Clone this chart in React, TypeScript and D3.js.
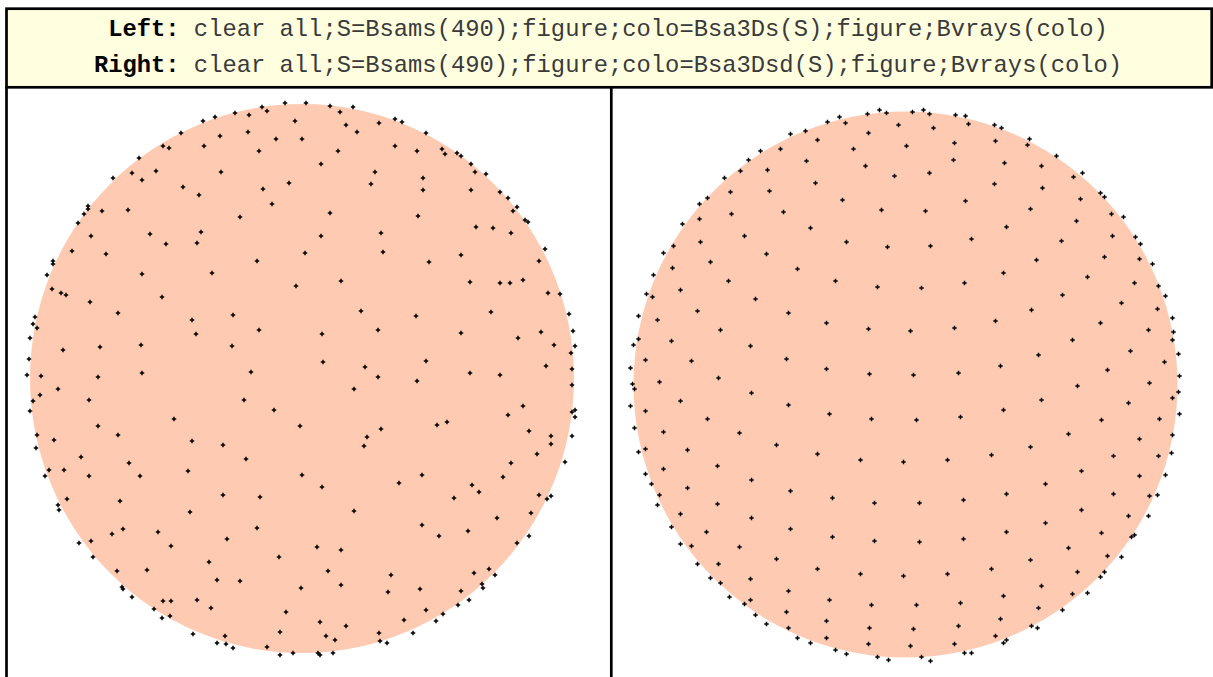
import React, { useRef, useEffect } from 'react';
import * as d3 from 'd3';

// Header captions (two MATLAB command lines)
const captionLabels = ['Left:', 'Right:'];
const captionCode = [
  ' clear all;S=Bsams(490);figure;colo=Bsa3Ds(S);figure;Bvrays(colo)',
  ' clear all;S=Bsams(490);figure;colo=Bsa3Dsd(S);figure;Bvrays(colo)',
];

// sphere radius in projection units (x, y) for each panel
const leftRadius = [272, 274.5];
const rightRadius = [272, 273];

// Left panel: Bsa3Ds projection, [x, y] relative to disc centre
const leftPoints: [number, number][] = [
  [-17,-275],[4,-275],[-40,-271],[-35,-267],[-67,-265],[-53,-263],[-87,-261],[-99,-257],[-7,-257],[-54,-246],
  [-121,-245],[-82,-242],[-26,-239],[0,-239],[-98,-232],[-139,-232],[-133,-230],[-43,-227],[-163,-220],[-146,-207],
  [-81,-206],[-170,-205],[-189,-200],[-160,-198],[-13,-195],[-119,-191],[-39,-189],[-103,-183],[-30,-174],[-214,-172],
  [-214,-169],[-200,-167],[-174,-168],[-218,-164],[-62,-161],[-224,-155],[-101,-146],[-152,-144],[-211,-142],[-105,-135],
  [-136,-134],[-230,-127],[3,-125],[-196,-124],[-45,-117],[-249,-117],[-249,-114],[-255,-103],[-160,-104],[-90,-105],
  [-6,-92],[-250,-89],[-241,-85],[-236,-83],[-140,-81],[-212,-76],[-184,-65],[-69,-63],[-267,-61],[-269,-54],
  [-265,-50],[-110,-58],[-43,-48],[-106,-44],[-272,-40],[-161,-33],[-70,-32],[-239,-28],[-202,-31],[-273,-19],
  [-275,-3],[-261,-2],[-204,-1],[-160,-5],[-51,-6],[-244,11],
  [28,-272],[51,-271],[38,-266],[93,-259],[100,-256],[44,-253],[77,-255],[55,-246],[124,-245],[93,-232],
  [36,-227],[115,-227],[140,-229],[143,-224],[155,-225],[159,-222],[19,-214],[169,-214],[173,-206],[184,-204],
  [73,-206],[121,-200],[69,-194],[121,-188],[169,-188],[198,-186],[206,-180],[215,-171],[211,-167],[223,-158],
  [226,-156],[28,-165],[116,-162],[19,-142],[79,-145],[174,-151],[191,-150],[209,-145],[81,-126],[159,-123],
  [127,-116],[243,-129],[237,-117],[39,-97],[168,-96],[198,-95],[208,-95],[221,-98],[246,-85],[258,-84],
  [59,-67],[114,-62],[189,-66],[267,-64],[20,-44],[76,-48],[159,-45],[216,-40],[239,-46],[271,-47],
  [252,-33],[273,-32],[269,-25],[21,-16],[63,-11],[124,-17],[244,-12],[76,-1],[115,3],[168,-5],
  [198,-3],[270,-9],[270,7],[52,11],
  [-262,17],[-269,23],[-213,22],[-272,33],[-128,41],[-58,22],[-28,32],[-2,48],[-204,48],[-184,57],
  [-265,57],[-248,62],[-110,63],[-79,67],[-266,70],[-221,79],[-56,81],[-173,85],[-253,92],[-238,92],
  [-257,98],[-213,98],[-162,98],[-114,93],[0,97],[-79,117],[-42,119],[-235,121],[-182,123],[-244,127],
  [-243,132],[-112,134],[-45,150],[-179,151],[-190,156],[-144,154],[-75,161],[-223,165],[-211,163],[-131,168],
  [-209,179],[-23,179],[-93,184],[-185,193],[-155,192],[-85,202],[-62,203],[-1,210],[-180,209],[-179,211],
  [-170,219],[-139,223],[-131,223],[-105,222],[-148,231],[-91,230],[-16,234],[-140,240],[-132,238],[-22,254],
  [-109,256],[-77,258],[-85,265],[-76,266],[-69,270],[-35,269],[-22,277],[-9,275],
  [221,28],[206,37],[270,34],[273,32],[273,39],[135,47],[145,44],[227,53],[249,58],[249,66],
  [270,58],[65,59],[62,68],[79,51],[235,76],[209,85],[263,84],[97,105],[120,97],[20,109],
  [201,99],[170,107],[177,114],[152,120],[237,117],[249,118],[245,121],[52,133],[120,147],[137,158],
  [166,153],[195,140],[229,135],[215,165],[227,158],[15,169],[39,172],[26,193],[89,197],[172,195],
  [187,191],[193,197],[39,207],[86,214],[118,211],[180,206],[181,210],[159,213],[167,222],[156,227],
  [124,232],[141,236],[134,243],[102,242],[18,244],[44,248],[24,258],[33,262],[77,255],[78,263],
  [85,265],[111,255],[16,275],[18,277],[31,275],
];

// Right panel: Bsa3Dsd projection, [x, y] relative to disc centre
const rightPoints: [number, number][] = [
  [-26,-274],[-19,-271],[-38,-270],[-66,-267],[-78,-262],[-60,-261],[-7,-259],[-100,-253],[-115,-250],[-37,-251],
  [-88,-244],[1,-238],[-125,-235],[-52,-235],[-145,-233],[-157,-224],[-99,-223],[-40,-218],[-138,-214],[-165,-213],
  [-11,-208],[-181,-206],[-90,-201],[-175,-192],[-136,-193],[-198,-186],[-63,-184],[-206,-180],[-24,-174],[-122,-172],
  [-174,-170],[-206,-165],[-223,-160],[-95,-156],[-161,-148],[-59,-142],[-205,-142],[-232,-138],[-18,-137],[-242,-131],
  [-139,-130],[-195,-122],[-108,-115],[-233,-116],[-252,-109],[-177,-103],[-70,-103],[-28,-97],[-225,-94],[-259,-90],
  [-253,-87],[-150,-85],[-208,-73],[-117,-71],[-267,-68],[-248,-64],[-79,-61],[-185,-54],[-37,-55],[5,-53],
  [-267,-45],[-272,-39],[-234,-43],[-155,-38],[-260,-24],[-214,-23],[-119,-25],[-275,-16],[-187,-6],[-79,-15],
  [-36,-10],[-246,-2],[-273,0],[-271,5],
  [18,-274],[24,-270],[50,-269],[60,-268],[7,-272],[63,-260],[28,-256],[89,-259],[96,-256],[124,-245],
  [122,-239],[49,-241],[90,-243],[48,-224],[99,-221],[151,-228],[136,-218],[24,-211],[168,-207],[177,-211],
  [89,-200],[137,-196],[195,-191],[199,-187],[175,-185],[60,-183],[125,-175],[20,-173],[206,-170],[218,-167],
  [171,-163],[101,-157],[207,-148],[230,-147],[235,-140],[66,-145],[156,-143],[25,-138],[199,-127],[131,-124],
  [247,-120],[234,-125],[98,-111],[182,-107],[59,-101],[16,-96],[229,-101],[253,-98],[260,-88],[157,-89],
  [216,-81],[252,-75],[126,-74],[267,-66],[90,-63],[195,-61],[243,-54],[49,-56],[167,-44],[267,-44],
  [268,-52],[225,-33],[133,-29],[273,-30],[259,-22],[95,-18],[202,-14],[53,-11],[8,-9],[274,-8],
  [172,2],[244,-1],
  [-154,9],[-225,17],[-117,21],[-275,22],[-260,27],[-76,30],[-34,35],[-198,35],[-271,44],[-242,48],
  [-166,49],[-129,61],[-260,65],[-267,68],[-218,66],[-88,70],[-45,76],[-2,78],[-188,82],[-242,85],
  [-260,90],[-154,96],[-254,100],[-218,104],[-115,107],[-73,114],[-31,119],[-246,111],[-248,121],[-188,120],
  [-225,130],[-154,134],[-115,145],[-73,153],[-31,157],[-234,143],[-199,148],[-225,160],[-214,162],[-166,163],
  [-129,175],[-208,180],[-187,180],[-88,185],[-45,190],[-2,192],[-195,194],[-155,195],[-185,199],[-117,207],
  [-176,213],[-155,216],[-76,216],[-34,221],[-161,220],[-150,231],[-119,228],[-139,240],[-79,237],[-117,244],
  [-36,244],[-108,254],[-95,259],[-79,254],[-37,260],[-70,266],[-59,270],[-28,273],[-17,276],
  [273,8],[267,14],[223,19],[136,16],[98,26],[274,30],[55,33],[11,36],[196,36],[254,35],
  [163,50],[234,55],[267,51],[125,63],[86,71],[42,76],[208,72],[253,72],[266,69],[176,87],
  [260,91],[234,92],[140,100],[101,110],[58,116],[14,119],[208,110],[244,112],[252,111],[176,126],
  [223,132],[243,132],[140,139],[101,148],[58,155],[14,158],[196,149],[226,153],[229,151],[163,164],
  [202,172],[216,173],[125,176],[86,185],[42,190],[172,188],[195,193],[199,188],[136,202],[182,209],
  [167,210],[98,212],[55,219],[11,221],[133,224],[157,226],[95,235],[53,242],[8,245],[126,242],
  [132,244],[90,252],[98,259],[101,256],[49,260],[5,262],[59,269],[66,269],[16,273],[25,277],
];

const W = 1213;
const H = 677;

const App: React.FC = () => {
  const ref = useRef<SVGSVGElement>(null);

  useEffect(() => {
    const svg = d3.select(ref.current);
    svg.selectAll('*').remove();

    // header box
    svg
      .append('rect')
      .attr('x', 6.5)
      .attr('y', 8.7)
      .attr('width', 1211.7 - 6.5)
      .attr('height', 87.3 - 8.7)
      .attr('fill', '#ffffe0')
      .attr('stroke', '#000')
      .attr('stroke-width', 2.7);

    const lineY = [36, 71.5];
    captionLabels.forEach((lab, i) => {
      const t = svg
        .append('text')
        .attr('x', 608)
        .attr('y', lineY[i])
        .attr('text-anchor', 'middle')
        .attr('font-family', "'Courier New', 'Liberation Mono', monospace")
        .attr('font-size', 23.8)
        .style('white-space', 'pre');
      t.append('tspan').attr('font-weight', 'bold').attr('fill', '#000').text(lab);
      t.append('tspan').attr('fill', '#3a3a3a').text(captionCode[i]);
    });

    // panel borders
    [6.5, 611.3].forEach((x) => {
      svg
        .append('line')
        .attr('x1', x)
        .attr('x2', x)
        .attr('y1', 87)
        .attr('y2', H)
        .attr('stroke', '#000')
        .attr('stroke-width', 2.7);
    });

    const panels = [
      { pts: leftPoints, r: leftRadius, cx: 302, cy: 378, ocy: 0.5 },
      { pts: rightPoints, r: rightRadius, cx: 905.5, cy: 384, ocy: 0.5 },
    ];

    const dot = d3.symbol().type(d3.symbolCross).size(11)();

    panels.forEach((p) => {
      const x = d3.scaleLinear().domain([-p.r[0], p.r[0]]).range([p.cx - p.r[0], p.cx + p.r[0]]);
      const y = d3.scaleLinear().domain([-p.r[1], p.r[1]]).range([p.cy - p.r[1], p.cy + p.r[1]]);
      const g = svg.append('g');

      g.append('ellipse')
        .attr('cx', x(0))
        .attr('cy', y(p.ocy))
        .attr('rx', x(p.r[0]) - x(0))
        .attr('ry', y(p.r[1]) - y(0))
        .attr('fill', '#fecbb2');

      g.selectAll('path.pt')
        .data(p.pts)
        .enter()
        .append('path')
        .attr('class', 'pt')
        .attr('d', dot)
        .attr('transform', (d) => `translate(${x(d[0])},${y(d[1])})`)
        .attr('fill', '#000');
    });
  }, []);

  return (
    <svg
      ref={ref}
      width={W}
      height={H}
      style={{ position: 'absolute', left: 0, top: 0, background: '#fff' }}
    />
  );
};

export default App;
